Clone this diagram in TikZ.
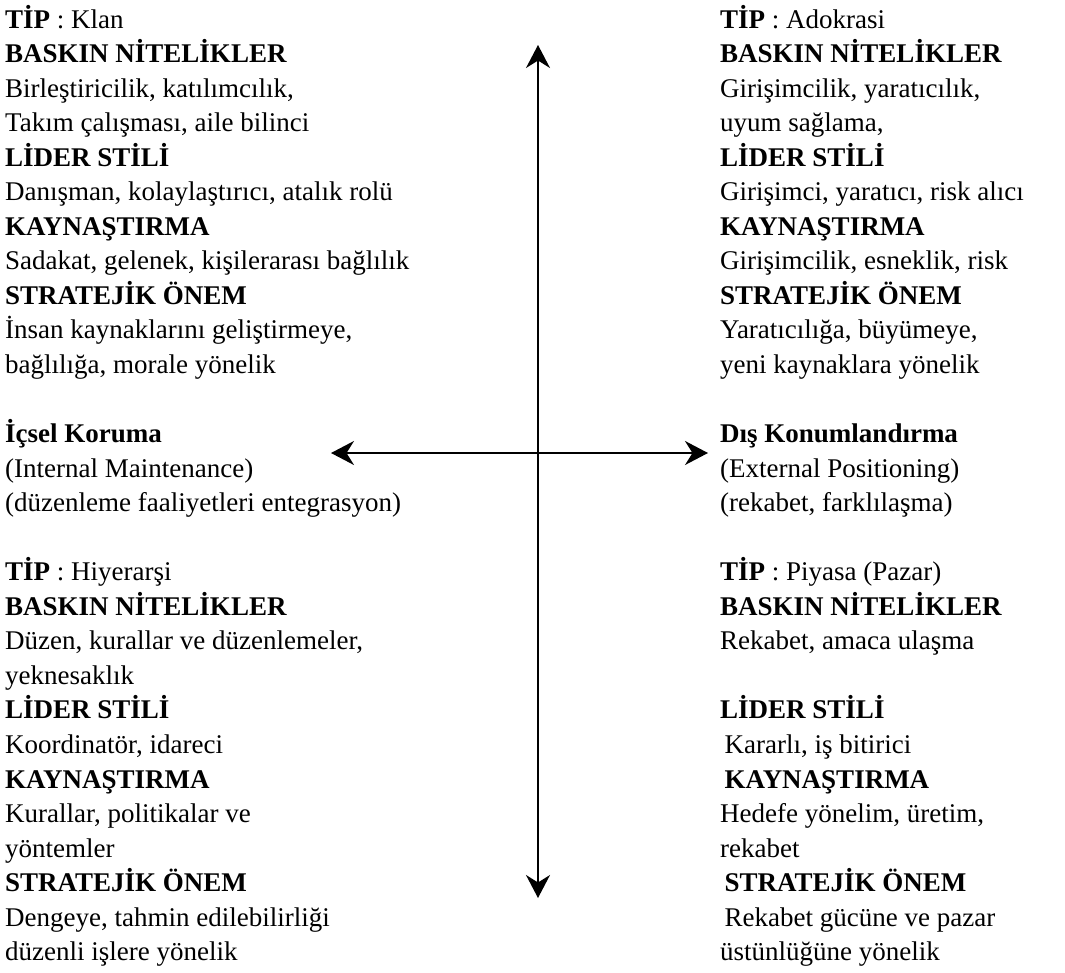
\documentclass[tikz,border=0pt]{standalone}
\usepackage{fontspec}
\setmainfont{Liberation Serif}
\usetikzlibrary{arrows.meta,positioning}

\begin{document}
\begin{tikzpicture}[x=1pt,y=-1pt,>=Stealth,
  blok/.style={anchor=base west,align=left,inner sep=0pt,
    font=\fontsize{27}{34.55}\selectfont},
  eksen/.style={<->,line width=1.7pt,>={Stealth[length=23pt,width=24pt]}}]
\useasboundingbox (0,0) rectangle (1065,972);
% sol ust: klan (konum = son satirin taban cizgisi)
\node[blok] (klan) at (5,373.5) {\textbf{TİP} : Klan\\
\textbf{BASKIN NİTELİKLER}\\
Birleştiricilik, katılımcılık,\\
Takım çalışması, aile bilinci\\
\textbf{LİDER STİLİ}\\
Danışman, kolaylaştırıcı, atalık rolü\\
\textbf{KAYNAŞTIRMA}\\
Sadakat, gelenek, kişilerarası bağlılık\\
\textbf{STRATEJİK ÖNEM}\\
İnsan kaynaklarını geliştirmeye,\\
bağlılığa, morale yönelik};
% sag ust: adokrasi
\node[blok] (adokrasi) at (720,373.5) {\textbf{TİP} : Adokrasi\\
\textbf{BASKIN NİTELİKLER}\\
Girişimcilik, yaratıcılık,\\
uyum sağlama,\\
\textbf{LİDER STİLİ}\\
Girişimci, yaratıcı, risk alıcı\\
\textbf{KAYNAŞTIRMA}\\
Girişimcilik, esneklik, risk\\
\textbf{STRATEJİK ÖNEM}\\
Yaratıcılığa, büyümeye,\\
yeni kaynaklara yönelik};
% orta
\node[blok] (ic) at (5,511.7) {\textbf{İçsel Koruma}\\
(Internal Maintenance)\\
(düzenleme faaliyetleri entegrasyon)};
\node[blok] (dis) at (720,511.7) {\textbf{Dış Konumlandırma}\\
(External Positioning)\\
(rekabet, farklılaşma)};
% sol alt: hiyerarsi
\node[blok] (hiyerarsi) at (5,960.8) {\textbf{TİP} : Hiyerarşi\\
\textbf{BASKIN NİTELİKLER}\\
Düzen, kurallar ve düzenlemeler,\\
yeknesaklık\\
\textbf{LİDER STİLİ}\\
Koordinatör, idareci\\
\textbf{KAYNAŞTIRMA}\\
Kurallar, politikalar ve\\
yöntemler\\
\textbf{STRATEJİK ÖNEM}\\
Dengeye, tahmin edilebilirliği\\
düzenli işlere yönelik};
% sag alt: piyasa
\node[blok] (piyasa) at (720,960.8) {\textbf{TİP} : Piyasa (Pazar)\\
\textbf{BASKIN NİTELİKLER}\\
Rekabet, amaca ulaşma\\[34.55pt]
\textbf{LİDER STİLİ}\\
\,Kararlı, iş bitirici\\
\,\textbf{KAYNAŞTIRMA}\\
Hedefe yönelim, üretim,\\
rekabet\\
\,\textbf{STRATEJİK ÖNEM}\\
\,Rekabet gücüne ve pazar\\
üstünlüğüne yönelik};
% eksenler
\coordinate (ust) at (538,45);
\coordinate (alt) at (538,898);
\coordinate (sol) at (331,453);
\coordinate (sag) at (708,453);
\draw[eksen] (ust) -- (alt);
\draw[eksen] (sol) -- (sag);
\end{tikzpicture}
\end{document}
